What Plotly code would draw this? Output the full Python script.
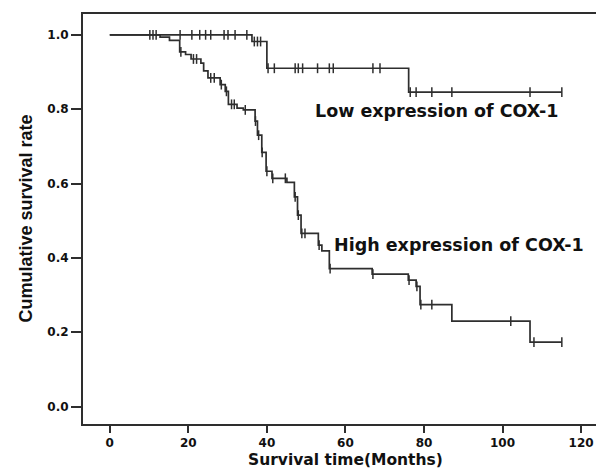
import plotly.graph_objects as go
import numpy as np

# ---- data ----
low_event_times = [0, 36.2, 40.0, 76.1]
low_survival = [1.0, 0.982, 0.910, 0.846]
low_end_time = 115.1
low_censor_times = [10.2, 11.0, 11.8, 17.9, 20.9, 22.9, 24.4, 25.7, 29.1, 30.1, 31.9, 34.9,
                    36.8, 37.6, 38.4, 40.3, 41.9, 47.2, 48.0, 49.1, 52.9, 55.9, 56.9,
                    67.0, 68.8, 76.5, 78.0, 82.0, 87.1, 107.0, 115.1]

high_event_times = [0, 12.8, 15.2, 17.8, 19.3, 20.7, 23.2, 23.9, 25.0, 28.1, 29.4, 30.2,
                    32.4, 34.0, 37.0, 37.6, 38.7, 39.8, 41.3, 45.1, 47.0, 47.8, 48.7,
                    53.1, 54.0, 55.9, 66.8, 76.0, 78.0, 79.0, 87.1, 107.0]
high_survival = [1.0, 0.994, 0.985, 0.954, 0.947, 0.935, 0.924, 0.903, 0.884, 0.866, 0.848, 0.813,
                 0.803, 0.798, 0.768, 0.730, 0.684, 0.633, 0.614, 0.603, 0.564, 0.515, 0.466,
                 0.434, 0.419, 0.371, 0.356, 0.340, 0.323, 0.274, 0.230, 0.173]
high_end_time = 115.1
high_censor_times = [18.1, 21.3, 22.1, 25.7, 26.6, 28.4, 29.7, 31.0, 31.7, 34.5, 37.1, 37.9,
                     38.8, 40.0, 41.5, 44.7, 47.2, 48.0, 48.9, 49.7, 53.3, 56.1, 67.0, 76.2,
                     78.2, 79.2, 82.0, 102.1, 108.0, 115.1]

x_ticks = [0, 20, 40, 60, 80, 100, 120]
y_ticks = [0.0, 0.2, 0.4, 0.6, 0.8, 1.0]
y_ticklabels = ["0.0", "0.2", "0.4", "0.6", "0.8", "1.0"]

group_labels = ["Low expression of COX-1", "High expression of COX-1"]
x_title = "Survival time(Months)"
y_title = "Cumulative survival rate"

LINE = "#2e2e2e"
FONT = "DejaVu Sans"


def surv_at(times, surv, t):
    idx = np.searchsorted(np.array(times), t, side="right") - 1
    return surv[max(idx, 0)]


fig = go.Figure()
for ev, sv, end, cens in [
    (low_event_times, low_survival, low_end_time, low_censor_times),
    (high_event_times, high_survival, high_end_time, high_censor_times),
]:
    xs = list(ev) + [end]
    ys = list(sv) + [sv[-1]]
    fig.add_trace(go.Scatter(x=xs, y=ys, mode="lines", line=dict(shape="hv", color=LINE, width=1.7),
                             hoverinfo="skip", showlegend=False))
    fig.add_trace(go.Scatter(x=cens, y=[surv_at(ev, sv, t) for t in cens], mode="markers",
                             marker=dict(symbol="line-ns", size=7, line=dict(color=LINE, width=1.5)),
                             hoverinfo="skip", showlegend=False))

fig.add_annotation(x=51.9, y=0.795, xref="x", yref="y", text="<b>%s</b>" % group_labels[0],
                   showarrow=False, xanchor="left", yanchor="middle",
                   font=dict(family=FONT, size=17.5, color="#111"), borderpad=0)
fig.add_annotation(x=56.9, y=0.434, xref="x", yref="y", text="<b>%s</b>" % group_labels[1],
                   showarrow=False, xanchor="left", yanchor="middle",
                   font=dict(family=FONT, size=17.5, color="#111"), borderpad=0)

# axis titles
fig.add_annotation(x=(345.5 - 83) / 513, y=(424 - 460) / 410, xref="paper", yref="paper",
                   text="<b>%s</b>" % x_title, showarrow=False, xanchor="center", yanchor="middle",
                   font=dict(family=FONT, size=15.5, color="#111"), borderpad=0)
fig.add_annotation(x=(25 - 83) / 513, y=(424 - 218.5) / 410, xref="paper", yref="paper",
                   text="<b>%s</b>" % y_title, showarrow=False, textangle=-90,
                   xanchor="center", yanchor="middle",
                   font=dict(family="Liberation Sans", size=18, color="#111"))

fig.update_layout(
    width=596, height=470,
    margin=dict(l=83, r=0, t=14, b=46, pad=0),
    paper_bgcolor="white", plot_bgcolor="white",
    font=dict(family=FONT, color="#111"),
    xaxis=dict(range=[-6.82, 123.8], tickvals=x_ticks, ticks="outside", ticklen=7, tickwidth=1.5,
               tickcolor=LINE, showline=True, linecolor=LINE, linewidth=2, mirror=True,
               showgrid=False, zeroline=False,
               tickfont=dict(family=FONT, size=12, color="#111", weight="bold")),
    yaxis=dict(range=[-0.047, 1.056], tickvals=y_ticks, ticktext=y_ticklabels, ticks="outside",
               ticklen=10, tickwidth=1.5, tickcolor=LINE, showline=True, linecolor=LINE, linewidth=2,
               showgrid=False, zeroline=False,
               tickfont=dict(family=FONT, size=12, color="#111", weight="bold")),
)

fig.write_html("out.html")
